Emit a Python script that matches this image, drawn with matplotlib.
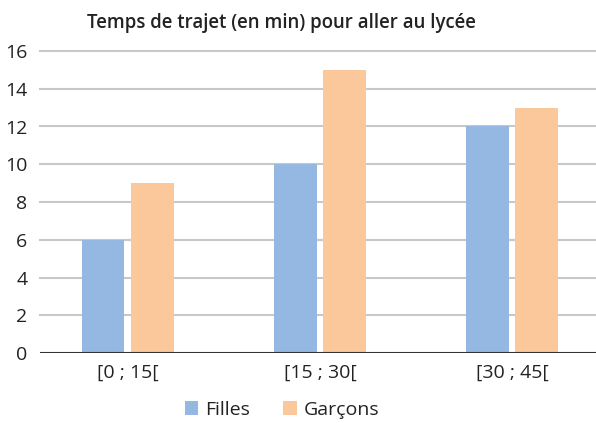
import numpy as np
import matplotlib
matplotlib.use("Agg")
from matplotlib import pyplot as plt

categories = ["[0 ; 15[", "[15 ; 30[", "[30 ; 45["]
filles = [6, 10, 12]
garcons = [9, 15, 13]
yticks = [0, 2, 4, 6, 8, 10, 12, 14, 16]

plt.rcParams['font.family'] = ['Open Sans', 'DejaVu Sans']

fig = plt.figure(figsize=(5.96, 4.23), dpi=100)
ax = fig.add_axes([40 / 596, 70 / 423, 556 / 596, 302 / 423])

x = np.arange(len(categories))
w = 0.22
off = 0.128
ax.bar(x - off, filles, w, color="#95b8e2", label="Filles", zorder=3)
ax.bar(x + off, garcons, w, color="#fac89b", label="Garçons", zorder=3)

ax.set_xlim(-0.458, 2.4375)
ax.set_ylim(0, 16)
ax.set_yticks(yticks)
ax.set_xticks(x)
ax.set_xticklabels(categories)
for t in yticks[1:]:
    ax.axhline(t, color="#c8c8c8", lw=1.5, zorder=1, clip_on=False)
ax.axhline(0, color="#333333", lw=1.5, zorder=4)

for s in ax.spines.values():
    s.set_visible(False)
ax.tick_params(length=0, labelsize=14, colors="#222222", pad=8)
ax.tick_params(axis="y", pad=9)

fig.text(281 / 596, 1 - 23 / 423, "Temps de trajet (en min) pour aller au lycée",
         fontsize=13.4, fontweight="semibold", color="#222222",
         ha="center", va="center")

fig.legend(loc="center", bbox_to_anchor=(282 / 596, 1 - 410 / 423), ncol=2, frameon=False,
           fontsize=14, handlelength=0.7, handleheight=0.7, columnspacing=1.7,
           handletextpad=0.35, labelcolor="#222222", borderaxespad=0)

fig.savefig("out.png", dpi=100)
